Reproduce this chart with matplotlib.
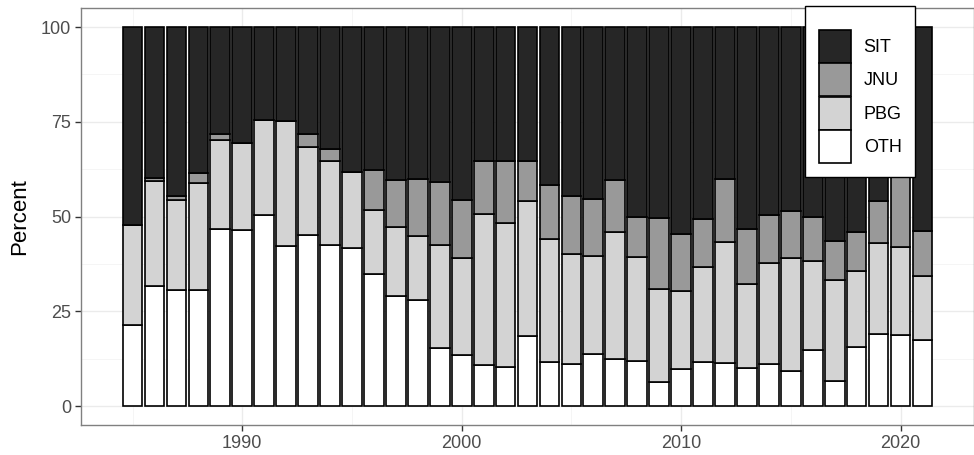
import matplotlib
matplotlib.use("Agg")
import matplotlib.pyplot as plt
import numpy as np
from matplotlib.ticker import MultipleLocator

plt.rcParams["font.family"] = ["Liberation Sans", "DejaVu Sans"]

years = list(range(1985, 2022))

# percent share per year, stacked bottom -> top: OTH, PBG, JNU, SIT
oth = [21.3, 31.8, 30.5, 30.5, 46.8, 46.5, 50.5, 42.3, 45.2, 42.5, 41.6, 34.9, 29.0,
       28.0, 15.2, 13.4, 10.9, 10.3, 18.6, 11.5, 11.2, 13.7, 12.4, 12.0, 6.3, 9.9,
       11.6, 11.3, 10.1, 11.2, 9.3, 14.8, 6.6, 15.7, 19.0, 18.8, 17.4]
pbg = [26.5, 27.7, 24.0, 28.3, 23.4, 22.8, 25.0, 33.0, 23.1, 22.2, 20.2, 16.8, 18.3,
       16.9, 27.4, 25.7, 39.9, 37.9, 35.6, 32.6, 29.0, 25.9, 33.5, 27.4, 24.6, 20.4,
       25.1, 32.0, 22.2, 26.6, 29.7, 23.4, 26.7, 19.9, 24.0, 23.2, 16.9]
jnu = [0.0, 0.8, 0.8, 2.6, 1.5, 0.0, 0.0, 0.0, 3.4, 3.2, 0.0, 10.6, 12.3, 15.1, 16.6,
       15.4, 13.9, 16.6, 10.6, 14.2, 15.3, 15.1, 13.7, 10.6, 18.7, 15.0, 12.7, 16.6,
       14.3, 12.7, 12.5, 11.8, 10.3, 10.4, 11.1, 18.5, 11.9]
sit = [52.2, 39.7, 44.7, 38.6, 28.3, 30.7, 24.5, 24.7, 28.3, 32.1, 38.2, 37.7, 40.4,
       40.0, 40.8, 45.5, 35.3, 35.2, 35.2, 41.7, 44.5, 45.3, 40.4, 50.0, 50.4, 54.7,
       50.6, 40.1, 53.4, 49.5, 48.5, 50.0, 56.4, 54.0, 45.9, 39.5, 53.8]

series = [("OTH", oth, "#ffffff"), ("PBG", pbg, "#d3d3d3"),
          ("JNU", jnu, "#999999"), ("SIT", sit, "#262626")]

fig = plt.figure(figsize=(9.74, 4.55), dpi=100)
ax = fig.add_axes([0.0832, 0.066, 0.9168, 0.916])

bottom = np.zeros(len(years))
handles = {}
for name, vals, col in series:
    vals = np.array(vals)
    bars = ax.bar(years, vals, bottom=bottom, width=0.9, color=col,
                  edgecolor="black", linewidth=1.2, label=name, zorder=3)
    handles[name] = bars
    bottom += vals

ax.set_xlim(1982.65, 2023.35)
ax.set_ylim(-5, 105)
ax.set_yticks([0, 25, 50, 75, 100])
ax.set_xticks([1990, 2000, 2010, 2020])
ax.yaxis.set_minor_locator(MultipleLocator(12.5))
ax.set_xticks([1985, 1995, 2005, 2015], minor=True)
ax.grid(which="major", color="#ebebeb", linewidth=1.0, zorder=0)
ax.grid(which="minor", color="#f4f4f4", linewidth=0.6, zorder=0)
ax.tick_params(which="minor", length=0)
ax.tick_params(which="major", length=4, width=1, color="#333333",
               labelcolor="#4d4d4d", labelsize=13, pad=3)
for s in ax.spines.values():
    s.set_color("#808080")
    s.set_linewidth(1.0)
ax.set_ylabel("Percent", fontsize=16, labelpad=8)

order = ["SIT", "JNU", "PBG", "OTH"]
leg = fig.legend([handles[n] for n in order], order, loc="upper left",
                 bbox_to_anchor=(0.8265, 0.987), borderaxespad=0,
                 fontsize=13, handlelength=1.78, handleheight=2.44,
                 labelspacing=0.02, handletextpad=0.72, borderpad=0.75,
                 fancybox=False, framealpha=1, edgecolor="black",
                 title=" ", title_fontsize=8)
leg.get_frame().set_linewidth(1.0)

fig.savefig("out.png", dpi=100)
